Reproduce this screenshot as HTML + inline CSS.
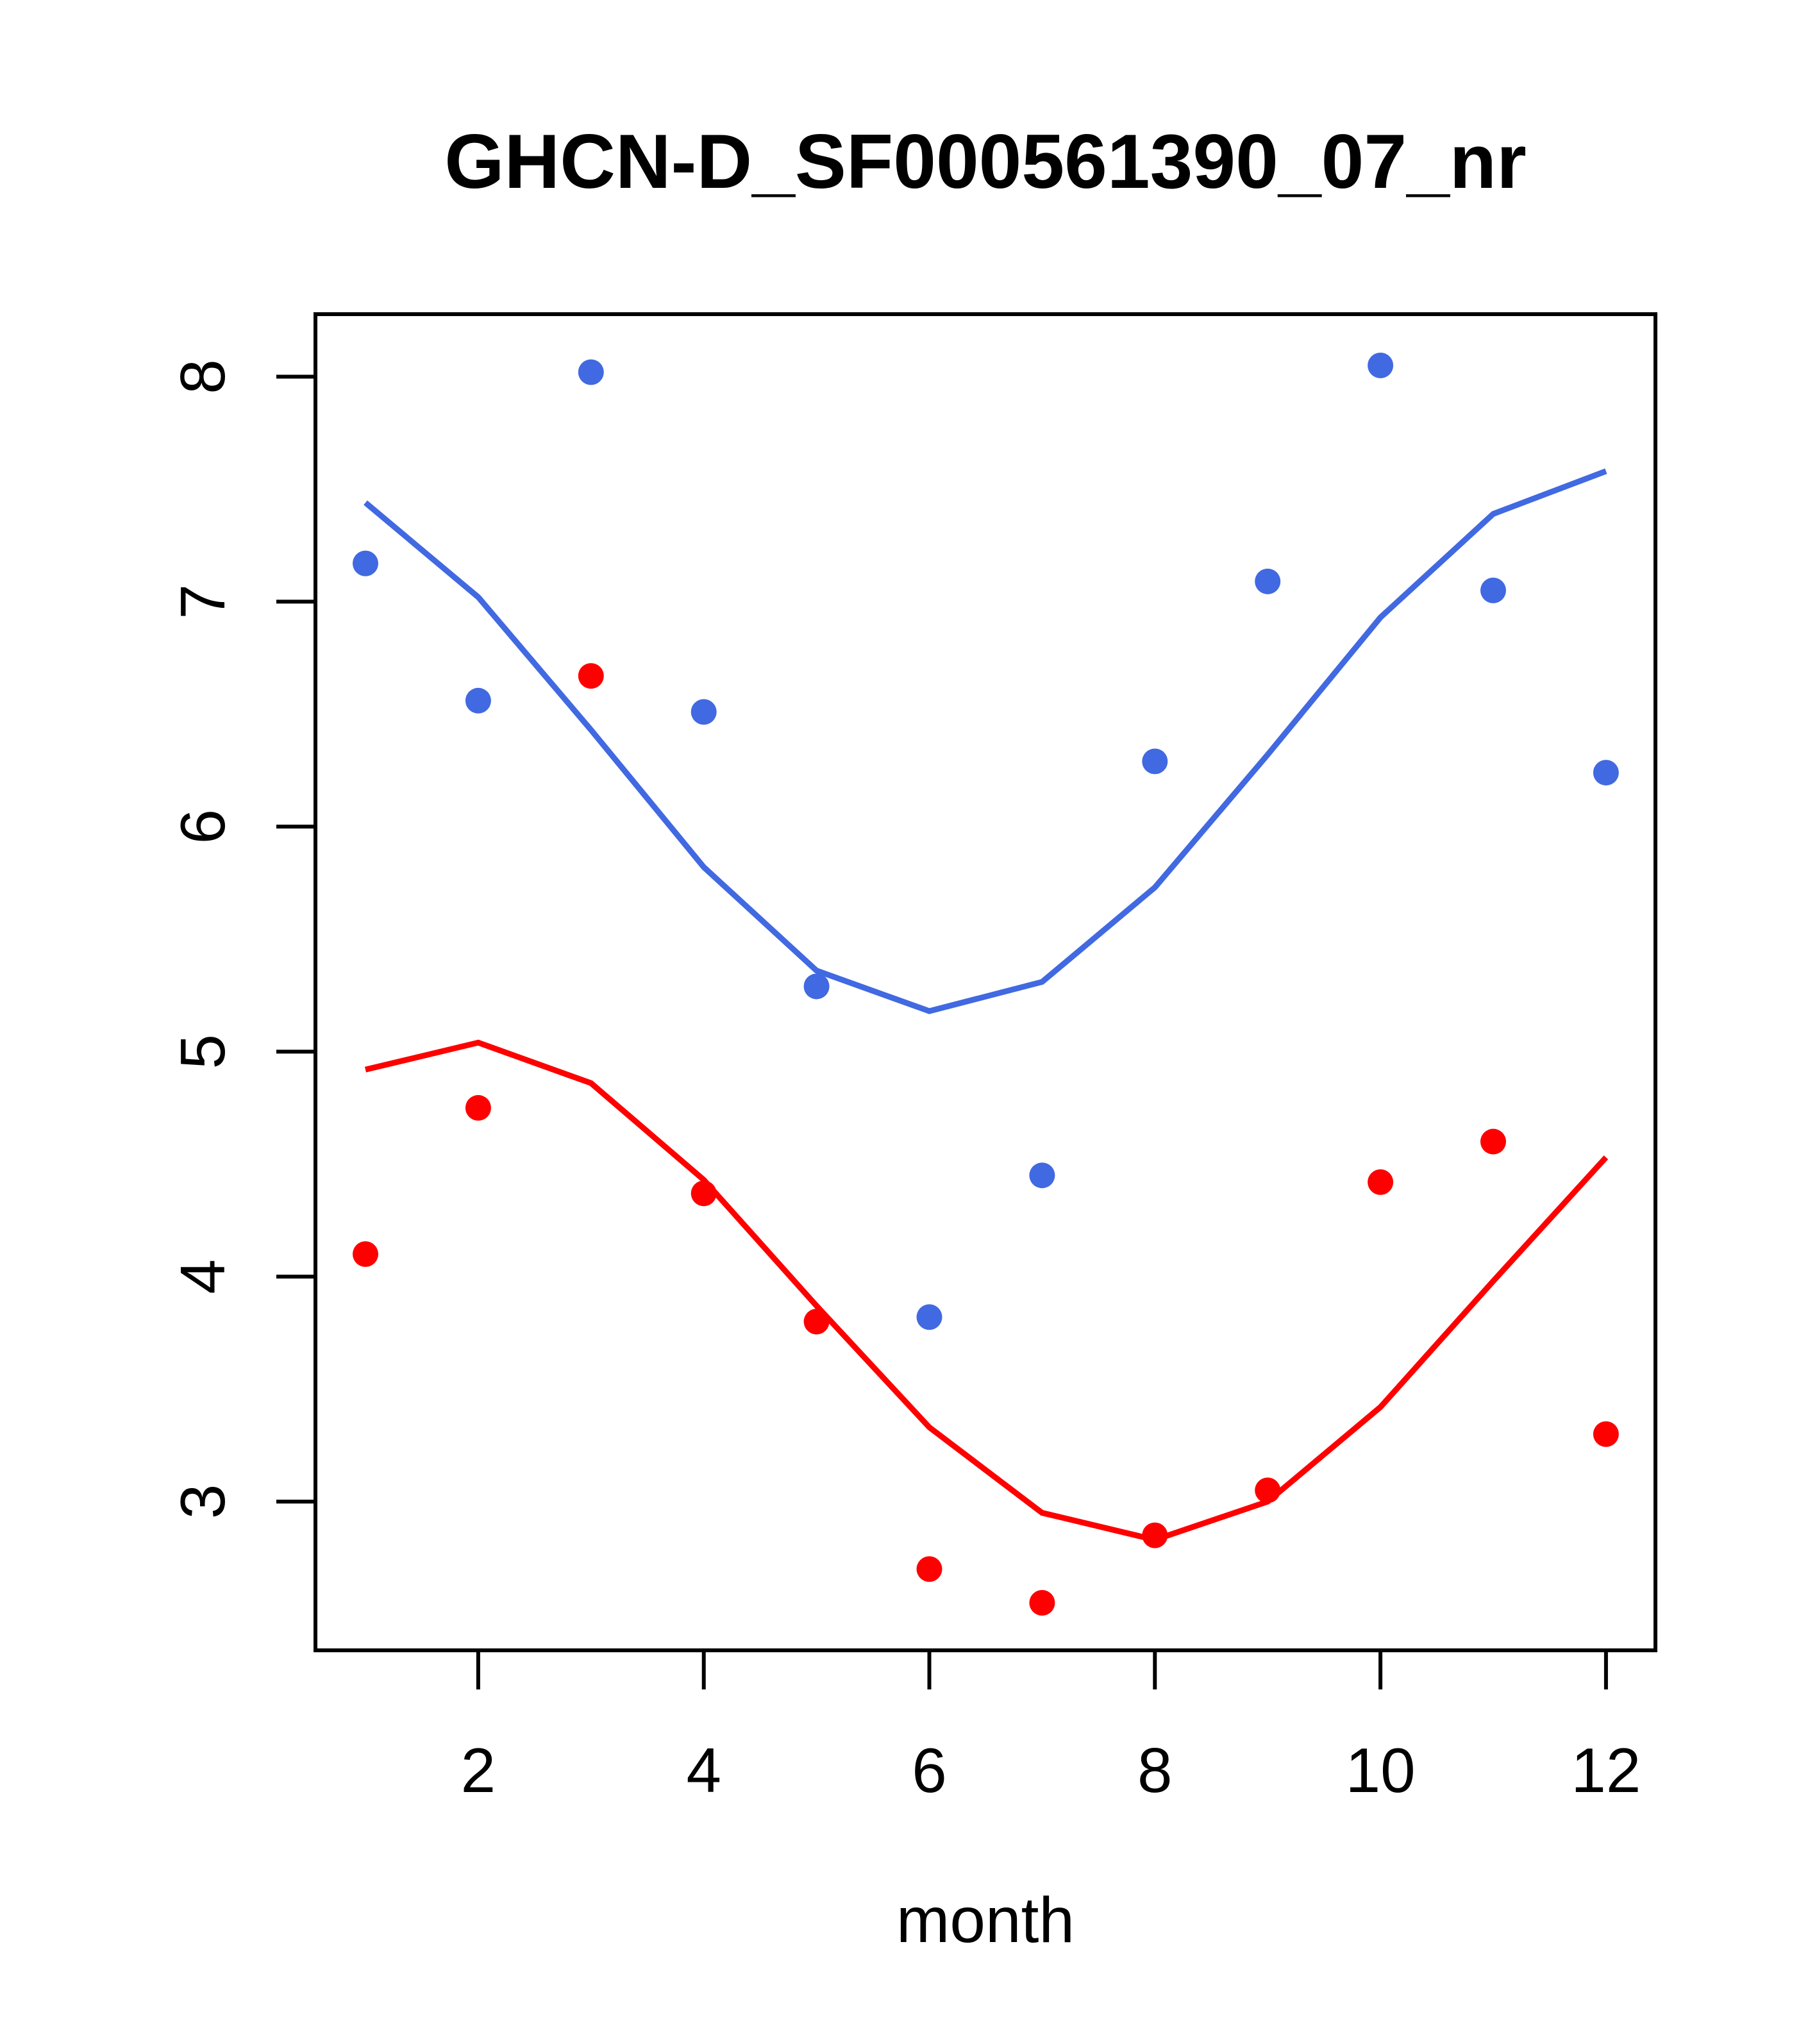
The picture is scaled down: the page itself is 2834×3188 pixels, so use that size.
<!DOCTYPE html>
<html><head><meta charset="utf-8"><style>html,body{margin:0;padding:0;background:#fff}svg{display:block}</style></head>
<body>
<svg id="chart" width="2834" height="3188" xmlns="http://www.w3.org/2000/svg" font-family="Liberation Sans, sans-serif">
<text x="1537" y="293" font-size="120" font-weight="bold" text-anchor="middle">GHCN-D_SF000561390_07_nr</text>
<text x="1537" y="3029" font-size="100" text-anchor="middle">month</text>
<g id="axes"></g>
<g id="marks"></g>
<rect x="492" y="490" width="2090" height="2084" fill="none" stroke="#000" stroke-width="6"/>
</svg>
<script>
const months = [1,2,3,4,5,6,7,8,9,10,11,12];
const bluePoints = [7.17,6.56,8.02,6.51,5.29,3.82,4.45,6.29,7.09,8.05,7.05,6.24];
const blueLine = [7.44,7.02,6.43,5.82,5.36,5.18,5.31,5.73,6.32,6.93,7.39,7.58];
const redPoints = [4.10,4.75,6.67,4.37,3.80,2.70,2.55,2.85,3.05,4.42,4.60,3.30];
const redLine = [4.92,5.04,4.86,4.43,3.87,3.33,2.95,2.83,3.00,3.42,3.98,4.53];
const xTicks = [2,4,6,8,10,12];
const yTicks = [3,4,5,6,7,8];
const NS='http://www.w3.org/2000/svg';
function xs(m){return 570+(m-1)*175.9;}
function ys(v){return 587.5+(8-v)*350.9;}
const axes=document.getElementById('axes'), marks=document.getElementById('marks');
function mk(tag,attrs,parent){const e=document.createElementNS(NS,tag);for(const k in attrs)e.setAttribute(k,attrs[k]);parent.appendChild(e);return e;}
xTicks.forEach(t=>{
  const l=mk('line',{x1:xs(t),x2:xs(t),y1:2574,y2:2635,stroke:'#000','stroke-width':6},axes);
  
  
  const tx=mk('text',{x:xs(t),y:2795,'font-size':98,'text-anchor':'middle'},axes);
  tx.textContent=t;
  
  
});
yTicks.forEach(t=>{
  const l=mk('line',{x1:431,x2:492,y1:ys(t),y2:ys(t),stroke:'#000','stroke-width':6},axes);
  
  
  const tx=mk('text',{x:0,y:0,'font-size':98,'text-anchor':'middle',transform:`translate(350,${ys(t)}) rotate(-90)`},axes);
  tx.textContent=t;
  
  
});
function line(vals,color,name){
  const p=mk('polyline',{points:vals.map((v,i)=>xs(months[i])+','+ys(v)).join(' '),fill:'none',stroke:color,'stroke-width':9},marks);
  
  
}
function pts(vals,color,name){
  vals.forEach((v,i)=>{
    const c=mk('circle',{cx:xs(months[i]),cy:ys(v),r:20,fill:color},marks);
    
    
  });
}
line(blueLine,'#4169E1','blue-fit-line');
line(redLine,'#FF0000','red-fit-line');
pts(bluePoints,'#4169E1','blue-point');
pts(redPoints,'#FF0000','red-point');
</script>
</body></html>
